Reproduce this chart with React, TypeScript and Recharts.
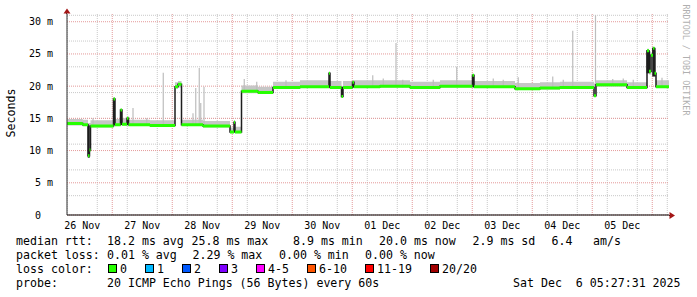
import React from "react"
import {
  ComposedChart,
  Area,
  Line,
  XAxis,
  YAxis,
  CartesianGrid,
  ReferenceArea,
} from "recharts"

// time is in hours since 26 Nov 00:00, values in ms
const MEDIAN_T = [
  5.9, 12.2, 14.3, 14.9, 15.3, 24.5, 25.1, 27.3, 27.9, 29.9, 30.5, 39.1, 49.1, 50.3, 51.7, 60.3,
  71.1, 72.7, 73.1, 75.7, 82.3, 88.3, 99.1, 110.7, 111.1, 115.7, 116.3, 120.1, 120.7, 131.1, 143.1,
  155.1, 168.1, 168.7, 179.1, 185.1, 195.1, 203.1, 216.7, 217.5, 229.9, 237.9, 238.7, 239.5, 240.3,
  240.9, 241.5, 246.7,
]
const MEDIAN_MS = [
  14.2, 14.0, 9.2, 10.1, 13.8, 18.0, 14.0, 16.3, 14.1, 15.0, 14.0, 13.9, 19.9, 20.3, 14.0, 13.8,
  12.9, 14.4, 12.9, 19.2, 19.0, 19.8, 19.9, 22.0, 19.8, 18.4, 19.8, 20.6, 19.9, 20.0, 19.8,
  20.0, 21.7, 19.9, 19.9, 19.6, 19.7, 19.8, 18.5, 20.2, 19.8, 25.5, 22.3, 24.8, 25.9,
  22.0, 19.9, 20.0,
]
const SMOKE_LO = [
  13.9, 13.8, 8.9, 9.8, 13.6, 14.0, 13.8, 14.0, 13.9, 13.9, 13.8, 13.7, 19.6, 19.8, 13.8, 13.6,
  12.7, 12.9, 12.7, 18.9, 18.8, 19.6, 19.7, 19.7, 19.6, 18.2, 19.6, 19.7, 19.7, 19.8, 19.6,
  19.8, 19.7, 19.7, 19.7, 19.4, 19.5, 19.6, 18.3, 19.9, 19.6, 22.0, 21.8, 22.0, 21.5,
  21.5, 19.7, 19.8,
]
const SMOKE_HI = [
  14.9, 14.8, 14.3, 14.3, 14.7, 18.3, 14.9, 16.5, 15.0, 15.3, 14.8, 14.7, 20.6, 20.8, 14.8, 14.6,
  13.6, 14.7, 13.7, 20.1, 19.9, 20.7, 20.9, 22.1, 20.8, 20.0, 20.8, 20.9, 20.9, 20.9, 20.7,
  20.9, 21.8, 20.8, 20.8, 20.5, 20.6, 20.7, 20.4, 20.9, 20.6, 25.8, 25.0, 25.2, 26.0,
  25.5, 20.9, 21.0,
]

// single-ping outliers (light smoke spikes)
const SPIKE_T = [
  16.3, 32.3, 37.8, 44.4, 56.3, 57.4, 58.8, 59.4, 60.7, 76.8, 81.8, 93.5, 128.2, 132.4, 137.5,
  140.2, 152.4, 161.8, 176.4, 180.4, 186.4, 200.2, 204.4, 208.2, 217.3, 224.2, 228.4, 232.4, 243.9,
]
const SPIKE_LO = [
  14.0, 14.0, 14.0, 14.0, 14.0, 14.0, 14.0, 14.0, 14.0, 19.1, 19.0, 19.8, 20.0, 20.0, 20.0,
  19.8, 19.8, 20.0, 19.9, 19.9, 19.6, 19.7, 19.8, 19.8, 20.2, 20.2, 20.2, 19.8, 20.0,
]
const SPIKE_HI = [
  15.0, 16.6, 15.0, 22.1, 15.8, 19.7, 22.8, 17.4, 19.9, 21.1, 20.7, 20.9, 21.7, 21.2, 26.7,
  21.0, 21.0, 23.0, 21.2, 21.0, 21.4, 21.5, 21.0, 28.6, 31.0, 21.1, 21.2, 21.0, 21.3,
]

// dense dark smoke blocks
const DARK_T0 = [14.2, 237.7, 240.0]
const DARK_T1 = [15.0, 239.2, 241.3]
const DARK_LO = [8.9, 22.0, 21.5]
const DARK_HI = [13.9, 25.4, 25.9]

const X_TICKS = [12, 36, 60, 84, 108, 132, 156, 180, 204, 228]
const X_LABELS = ["26 Nov", "27 Nov", "28 Nov", "29 Nov", "30 Nov", "01 Dec", "02 Dec", "03 Dec", "04 Dec", "05 Dec"]
const Y_TICKS = [0, 5, 10, 15, 20, 25, 30]
const Y_LABELS = ["0  ", "5 m", "10 m", "15 m", "20 m", "25 m", "30 m"]

const LOSS_LABELS = ["0", "1", "2", "3", "4-5", "6-10", "11-19", "20/20"]
const LOSS_COLORS = ["#26ff00", "#00b8ff", "#0059ff", "#7e00ff", "#ff00ff", "#ff5500", "#ff0000", "#a10000"]

const STAT_LINES: Array<Array<[number, string]>> = [
  [[16, "median rtt:"], [107, "18.2 ms avg"], [191.5, "25.8 ms max"], [293, "8.9 ms min"], [379, "20.0 ms now"], [472.5, "2.9 ms sd"], [551.5, "6.4"], [593, "am/s"]],
  [[16, "packet loss:"], [107, "0.01 % avg"], [192.5, "2.29 % max"], [279, "0.00 % min"], [365, "0.00 % now"]],
  [[16, "loss color:"]],
  [[16, "probe:"], [107, "20 ICMP Echo Pings (56 Bytes) every 60s"], [513, "Sat Dec  6 05:27:31 2025"]],
]
const LINE_Y = [245, 259, 273, 286.5]

const MONO = "'DejaVu Sans Mono', monospace"

const X_MIN = 5.9
const X_MAX = 246.7
const Y_MAX = 31.2

const minorX = Array.from({ length: 41 }, (_, i) => 6 + i * 6)
const majorX = Array.from({ length: 10 }, (_, i) => 24 + i * 24)
const minorY = Array.from({ length: 32 }, (_, i) => i)
const majorY = [0, 5, 10, 15, 20, 25, 30]

const XTick = ({ x, y, payload }: any) => (
  <text x={x} y={y} dy={6} textAnchor="middle" fontFamily={MONO} fontSize={10} fill="#000">
    {X_LABELS[X_TICKS.indexOf(payload.value)]}
  </text>
)

const YTick = ({ x, y, payload }: any) => (
  <text x={x} y={y} dy={3.5} textAnchor="end" fontFamily={MONO} fontSize={10} fill="#000" style={{ whiteSpace: "pre" }}>
    {Y_LABELS[Y_TICKS.indexOf(payload.value)]}
  </text>
)

export default function App() {
  const data = MEDIAN_T.map((t, i) => ({
    t,
    med: MEDIAN_MS[i],
    smoke: [SMOKE_LO[i], SMOKE_HI[i]],
  }))

  // green median drawn as flat pieces so the big jumps stay dark
  const greenData: Array<{ t: number; g: number | null }> = []
  for (let i = 0; i < MEDIAN_T.length - 1; i++) {
    greenData.push({ t: MEDIAN_T[i], g: MEDIAN_MS[i] })
    greenData.push({ t: MEDIAN_T[i + 1], g: MEDIAN_MS[i] })
    greenData.push({ t: MEDIAN_T[i + 1], g: null })
  }

  // outlier spikes as vertical pieces of one line
  const spikeData: Array<{ t: number; s: number | null }> = []
  SPIKE_T.forEach((t, i) => {
    spikeData.push({ t, s: SPIKE_LO[i] })
    spikeData.push({ t, s: SPIKE_HI[i] })
    spikeData.push({ t, s: null })
  })

  let bx = 108
  const boxes = LOSS_LABELS.map((label, i) => {
    const x = bx
    bx += 30 + 7 * label.length
    return { x, label, color: LOSS_COLORS[i] }
  })

  return (
    <div style={{ position: "absolute", left: 0, top: 0, width: 697, height: 297, background: "#fff" }}>
      <ComposedChart
        width={697}
        height={297}
        data={data}
        margin={{ top: 14, right: 28, bottom: 52, left: 7 }}
      >
        <CartesianGrid
          horizontalValues={minorY}
          verticalValues={minorX}
          stroke="#c8c8c8"
          strokeDasharray="1 1"
        />
        <CartesianGrid
          horizontalValues={majorY}
          verticalValues={majorX}
          stroke="#e49a9a"
          strokeDasharray="1 1"
        />
        <XAxis
          dataKey="t"
          type="number"
          domain={[X_MIN, X_MAX]}
          ticks={X_TICKS}
          tick={<XTick />}
          tickLine={false}
          axisLine={{ stroke: "#000" }}
          allowDataOverflow
          height={30}
        />
        <YAxis
          type="number"
          domain={[0, Y_MAX]}
          ticks={Y_TICKS}
          tick={<YTick />}
          tickLine={false}
          tickMargin={8}
          axisLine={{ stroke: "#333" }}
          allowDataOverflow
          width={60}
        />
        <Area
          dataKey="smoke"
          type="stepAfter"
          fill="#c6c6c6"
          fillOpacity={1}
          stroke="none"
          isAnimationActive={false}
        />
        <Line
          data={spikeData}
          dataKey="s"
          type="linear"
          stroke="#bdbdbd"
          strokeWidth={1.2}
          dot={false}
          connectNulls={false}
          isAnimationActive={false}
        />
        {DARK_T0.map((t, i) => (
          <ReferenceArea
            key={`dk-${i}`}
            x1={t}
            x2={DARK_T1[i]}
            y1={DARK_LO[i]}
            y2={DARK_HI[i]}
            fill="#1e1e1e"
            fillOpacity={1}
            stroke="none"
          />
        ))}
        <Line
          dataKey="med"
          type="stepAfter"
          stroke="#1e1e1e"
          strokeWidth={1.5}
          dot={false}
          isAnimationActive={false}
        />
        <Line
          data={greenData}
          dataKey="g"
          type="linear"
          stroke="#26ff00"
          strokeWidth={3}
          dot={false}
          connectNulls={false}
          isAnimationActive={false}
        />
      </ComposedChart>
      <svg
        width={697}
        height={297}
        style={{ position: "absolute", left: 0, top: 0, pointerEvents: "none" }}
      >
        <line x1={66.5} y1={14} x2={66.5} y2={11} stroke="#333" />
        <polygon points="67,8.5 63.5,13.5 70.5,13.5" fill="#a31515" />
        <line x1={669} y1={215.5} x2={671} y2={215.5} stroke="#000" />
        <polygon points="675,215.5 669.5,212 669.5,219" fill="#a31515" />
        <text
          x={11}
          y={113}
          transform="rotate(-90 11 113)"
          textAnchor="middle"
          dominantBaseline="central"
          fontFamily={MONO}
          fontSize={11.6}
          fill="#000"
        >
          Seconds
        </text>
        <text
          x={686}
          y={60}
          transform="rotate(90 686 60)"
          textAnchor="middle"
          dominantBaseline="central"
          fontFamily={MONO}
          fontSize={8.4}
          fill="#b0b0b0"
        >
          RRDTOOL / TOBI OETIKER
        </text>
        {STAT_LINES.map((line, li) =>
          line.map(([x, txt], j) => (
            <text
              key={`t-${li}-${j}`}
              x={x}
              y={LINE_Y[li]}
              fontFamily={MONO}
              fontSize={11.6}
              fill="#000"
              style={{ whiteSpace: "pre" }}
            >
              {txt}
            </text>
          ))
        )}
        {boxes.map((b) => (
          <g key={b.label}>
            <rect x={b.x + 0.5} y={264.5} width={8} height={8} fill={b.color} stroke="#000" />
            <text x={b.x + 12} y={LINE_Y[2]} fontFamily={MONO} fontSize={11.6} fill="#000">
              {b.label}
            </text>
          </g>
        ))}
      </svg>
    </div>
  )
}
